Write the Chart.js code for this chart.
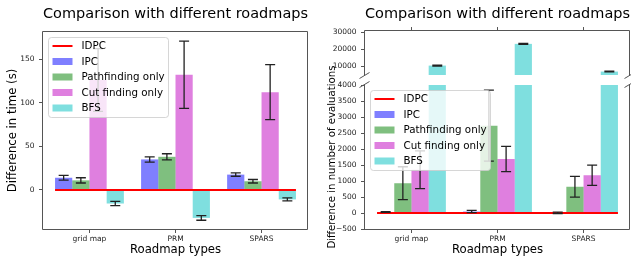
<!DOCTYPE html>
<html>
<head>
<meta charset="utf-8">
<script src="https://cdn.jsdelivr.net/npm/chart.js@4.4.1/dist/chart.umd.min.js"></script>
<style>
  body { margin: 0; background: #fff; }
  #wrap { position: relative; width: 631px; height: 261px; }
  canvas { position: absolute; }
</style>
</head>
<body>
<div id="wrap">
  <canvas id="timeChart" width="315" height="261" style="left:0;top:0;width:315px;height:261px"></canvas>
  <canvas id="evalTop" width="316" height="84" style="left:315px;top:0;width:316px;height:84px"></canvas>
  <canvas id="evalBottom" width="316" height="221" style="left:315px;top:40px;width:316px;height:221px"></canvas>
</div>
<script>
// categories
const roadmaps = ["grid map", "PRM", "SPARS"];

// difference in time (s), IDPC is the 0 baseline
const timeIPC = [14, 35, 17.6];
const timeIPCErr = [2.7, 3, 1.9];
const timePath = [11, 38, 10];
const timePathErr = [3, 3.5, 2];
const timeCut = [126, 132, 112];
const timeCutErr = [36, 38.5, 31.5];
const timeBFS = [-15.5, -32, -10.8];
const timeBFSErr = [2.5, 2.7, 1.7];

// difference in number of evaluations
const evalIPC = [30, 45, 5];
const evalIPCErr = [10, 35, 25];
const evalPath = [930, 2730, 820];
const evalPathErr = [515, 1110, 325];
const evalCut = [1350, 1690, 1180];
const evalCutErr = [590, 395, 318];
const evalBFS = [10500, 23200, 7000];
const evalBFSErr = [250, 250, 200];

// tick values
const timeTicks = [0, 50, 100, 150];
const evalTopTicks = [10000, 20000, 30000];
const evalBottomTicks = [-500, 0, 500, 1000, 1500, 2000, 2500, 3000, 3500, 4000];

const FONT = "DejaVu Sans";
const groupHalf = 0.4; // half of the bar group width (in categories)

function fmt(v) {
    return v < 0 ? "\u2212" + Math.abs(v) : String(v);
}

function makeDatasets(ipc, ipcErr, path, pathErr, cut, cutErr, bfs, bfsErr) {
    const pts = arr => arr.map((v, i) => ({ x: i, y: v }));
    return [
        {
            type: "line", label: "IDPC", order: 0, clip: 0,
            data: [{ x: -groupHalf, y: 0 }, { x: roadmaps.length - 1 + groupHalf, y: 0 }],
            borderColor: "#ff0000", borderWidth: 2, pointRadius: 0
        },
        { label: "IPC", order: 1, clip: 0, data: pts(ipc), err: ipcErr, backgroundColor: "rgba(0,0,255,0.5)" },
        { label: "Pathfinding only", order: 1, clip: 0, data: pts(path), err: pathErr, backgroundColor: "rgba(0,128,0,0.5)" },
        { label: "Cut finding only", order: 1, clip: 0, data: pts(cut), err: cutErr, backgroundColor: "rgba(191,0,191,0.5)" },
        { label: "BFS", order: 1, clip: 0, data: pts(bfs), err: bfsErr, backgroundColor: "rgba(0,191,191,0.5)" }
    ];
}

function drawLegend(chart) {
    const ctx = chart.ctx, a = chart.chartArea;
    const x0 = Math.round(a.left) + 5.5, y0 = Math.round(a.top) + 5.5, w = 120, h = 80;
    ctx.save();
    ctx.beginPath();
    ctx.roundRect(x0, y0, w, h, 3);
    ctx.fillStyle = "rgba(255,255,255,0.8)";
    ctx.fill();
    ctx.strokeStyle = "rgba(204,204,204,0.8)";
    ctx.lineWidth = 1;
    ctx.stroke();
    ctx.font = "10.3px '" + FONT + "'";
    ctx.textBaseline = "middle";
    chart.data.datasets.forEach((ds, i) => {
        const cy = y0 + 8.5 + i * 15.5;
        if (ds.type === "line") {
            ctx.strokeStyle = ds.borderColor;
            ctx.lineWidth = 2;
            ctx.beginPath();
            ctx.moveTo(x0 + 4, cy);
            ctx.lineTo(x0 + 24, cy);
            ctx.stroke();
        } else {
            ctx.fillStyle = ds.backgroundColor;
            ctx.fillRect(x0 + 4, cy - 3.5, 20, 7);
        }
        ctx.fillStyle = "#000";
        ctx.fillText(ds.label, x0 + 33, cy + 0.5);
    });
    ctx.restore();
}

const decor = {
    id: "decor",
    afterDatasetsDraw(chart) {
        const o = chart.options.plugins.decor;
        const ctx = chart.ctx, a = chart.chartArea, ys = chart.scales.y;
        ctx.save();
        ctx.beginPath();
        ctx.rect(a.left, a.top, a.right - a.left, a.bottom - a.top);
        ctx.clip();
        ctx.strokeStyle = "#222";
        ctx.lineWidth = 1.3;
        chart.data.datasets.forEach((ds, i) => {
            if (!ds.err) return;
            chart.getDatasetMeta(i).data.forEach((bar, j) => {
                const v = ds.data[j].y, e = ds.err[j];
                const lo = ys.getPixelForValue(v - e), hi = ys.getPixelForValue(v + e);
                ctx.beginPath();
                ctx.moveTo(bar.x, lo); ctx.lineTo(bar.x, hi);
                ctx.moveTo(bar.x - 5, lo); ctx.lineTo(bar.x + 5, lo);
                ctx.moveTo(bar.x - 5, hi); ctx.lineTo(bar.x + 5, hi);
                ctx.stroke();
            });
        });
        ctx.restore();
        if (o.legend) drawLegend(chart);
    },
    afterDraw(chart) {
        const o = chart.options.plugins.decor;
        const ctx = chart.ctx, a = chart.chartArea;
        const L = Math.round(a.left) - 0.5, R = Math.round(a.right) - 0.5;
        const T = Math.round(a.top) - 0.5, B = Math.round(a.bottom) + 0.5;
        ctx.save();
        ctx.strokeStyle = "#555";
        ctx.lineWidth = 1;
        ctx.beginPath();
        if (o.spines.includes("top")) { ctx.moveTo(L, T); ctx.lineTo(R, T); }
        if (o.spines.includes("bottom")) { ctx.moveTo(L, B); ctx.lineTo(R, B); }
        if (o.spines.includes("left")) { ctx.moveTo(L, T); ctx.lineTo(L, B); }
        if (o.spines.includes("right")) { ctx.moveTo(R, T); ctx.lineTo(R, B); }
        ctx.stroke();
        if (o.breaks) {
            const y = o.breaks === "bottom" ? B : T;
            ctx.beginPath();
            [L, R].forEach(x => { ctx.moveTo(x - 5, y + 3); ctx.lineTo(x + 5, y - 3); });
            ctx.stroke();
        }
        if (o.yLabel) {
            // long label, taller than this axis, so it is drawn without a width limit
            ctx.translate(o.yLabel.x, (a.top + a.bottom) / 2);
            ctx.rotate(-Math.PI / 2);
            ctx.font = o.yLabel.size + "px '" + FONT + "'";
            ctx.fillStyle = "#000";
            ctx.textAlign = "center";
            ctx.textBaseline = "middle";
            ctx.fillText(o.yLabel.text, 0, 0);
        }
        ctx.restore();
    }
};

function xAxis(position, showLabels, height) {
    return {
        type: "linear", position: position, min: -0.54, max: 2.54, offset: false,
        grid: { display: true, offset: false, drawOnChartArea: false, drawTicks: true, tickLength: 4, color: "#555" },
        border: { display: false },
        afterBuildTicks: s => { s.ticks = roadmaps.map((r, i) => ({ value: i })); },
        ticks: {
            display: showLabels, autoSkip: false,
            maxRotation: 0, padding: 2, color: "#222",
            font: { family: FONT, size: 7.5 },
            callback: v => roadmaps[v]
        },
        title: {
            display: showLabels, text: "Roadmap types", color: "#000",
            font: { family: FONT, size: 11.7 }, padding: { top: 0, bottom: 4.5 }
        },
        afterFit: s => { s.height = height; }
    };
}

function yAxis(min, max, tickVals, label, width) {
    return {
        type: "linear", min: min, max: max,
        grid: { display: true, drawOnChartArea: false, drawTicks: true, tickLength: 4, color: "#555" },
        border: { display: false },
        afterBuildTicks: s => { s.ticks = tickVals.map(v => ({ value: v })); },
        ticks: {
            autoSkip: false, padding: 4.5, color: "#222",
            font: { family: FONT, size: 7.5 }, callback: fmt
        },
        title: {
            display: !!label, text: label, color: "#000",
            font: { family: FONT, size: 11.7 }, padding: { top: 5.7, bottom: 0 }
        },
        afterFit: s => { s.width = width; }
    };
}

function titleOpts(bottomPad) {
    return {
        display: true, fullSize: false, text: "Comparison with different roadmaps", color: "#000",
        font: { family: FONT, size: 14.7, weight: "normal" },
        padding: { top: 5.2, bottom: bottomPad }
    };
}

function baseOptions(extra) {
    return Object.assign({
        responsive: false,
        animation: false,
        events: [],
        datasets: { bar: { categoryPercentage: 0.8, barPercentage: 1.0, borderWidth: 0 } }
    }, extra);
}

new Chart(document.getElementById("timeChart"), {
    type: "bar",
    data: { datasets: makeDatasets(timeIPC, timeIPCErr, timePath, timePathErr, timeCut, timeCutErr, timeBFS, timeBFSErr) },
    options: baseOptions({
        layout: { padding: { left: 0, right: 7, top: 0, bottom: 0 } },
        plugins: {
            legend: { display: false }, tooltip: { enabled: false },
            title: titleOpts(9.2),
            decor: { spines: ["top", "bottom", "left", "right"], legend: true }
        },
        scales: {
            x: xAxis("bottom", true, 32),
            y: yAxis(-44.7, 180.9, timeTicks, "Difference in time (s)", 43)
        }
    }),
    plugins: [decor]
});

new Chart(document.getElementById("evalTop"), {
    type: "bar",
    data: { datasets: makeDatasets(evalIPC, evalIPCErr, evalPath, evalPathErr, evalCut, evalCutErr, evalBFS, evalBFSErr) },
    options: baseOptions({
        layout: { padding: { left: 0, right: 1, top: 0, bottom: 4 } },
        plugins: {
            legend: { display: false }, tooltip: { enabled: false },
            title: titleOpts(4.2),
            decor: { spines: ["top", "left", "right"], breaks: "bottom" }
        },
        scales: {
            x: xAxis("top", false, 4),
            y: yAxis(5000, 30700, evalTopTicks, "", 50)
        }
    }),
    plugins: [decor]
});

new Chart(document.getElementById("evalBottom"), {
    type: "bar",
    data: { datasets: makeDatasets(evalIPC, evalIPCErr, evalPath, evalPathErr, evalCut, evalCutErr, evalBFS, evalBFSErr) },
    options: baseOptions({
        layout: { padding: { left: 0, right: 1, top: 45, bottom: 0 } },
        plugins: {
            legend: { display: false }, tooltip: { enabled: false },
            title: { display: false },
            decor: {
                spines: ["bottom", "left", "right"], legend: true, breaks: "top",
                yLabel: { text: "Difference in number of evaluations", x: 17, size: 10.2 }
            }
        },
        scales: {
            x: xAxis("bottom", true, 32),
            y: yAxis(-500, 4000, evalBottomTicks, "", 50)
        }
    }),
    plugins: [decor]
});
</script>
</body>
</html>
